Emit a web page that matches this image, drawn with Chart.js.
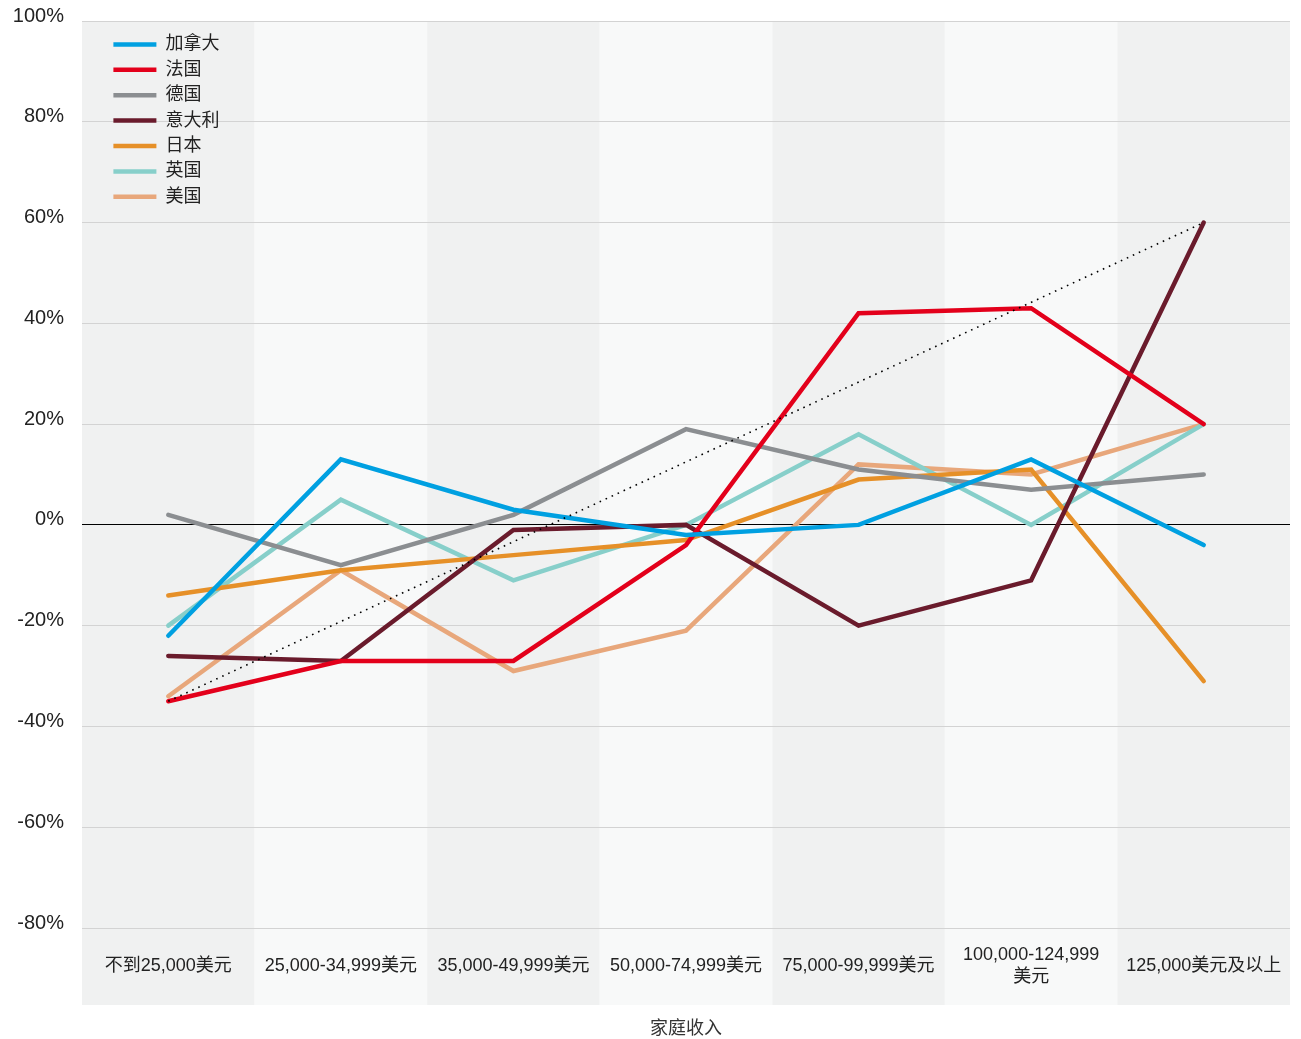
<!DOCTYPE html>
<html>
<head>
<meta charset="utf-8">
<script src="https://cdn.jsdelivr.net/npm/chart.js@4/dist/chart.umd.min.js"></script>
<style>
html,body{margin:0;padding:0;background:#fff;}
#wrap{width:1301px;height:1039px;position:relative;}
</style>
</head>
<body>
<div id="wrap"><canvas id="c"></canvas></div>
<script>
const categories = ['不到25,000美元','25,000-34,999美元','35,000-49,999美元','50,000-74,999美元','75,000-99,999美元',['100,000-124,999','美元'],'125,000美元及以上'];
const seriesNames = ['加拿大','法国','德国','意大利','日本','英国','美国'];
const canada  = [-22, 13, 3, -2, 0, 13, -4];
const france  = [-35, -27, -27, -4, 42, 43, 20];
const germany = [2, -8, 2, 19, 11, 7, 10];
const italy   = [-26, -27, -1, 0, -20, -11, 60];
const japan   = [-14, -9, -6, -3, 9, 11, -31];
const uk      = [-20, 5, -11, 0, 18, 0, 20];
const usa     = [-34, -9, -29, -21, 12, 10, 20];
const trend   = [-35, null, null, null, null, null, 60];
const colors  = ['#00a0e1','#e3001b','#8b8e91','#6a1b2c','#e69028','#87cfca','#e8a77b'];
const drawOrder = [1, 2, 4, 3, 5, 6, 7];
const yMin = -80, yMax = 100, yStep = 20;
const xTitle = '家庭收入';

const FONT = '"Liberation Sans", "Noto Sans CJK SC", Arial, sans-serif';
const seriesData = [canada, france, germany, italy, japan, uk, usa];

const datasets = seriesData.map((d, i) => ({
  label: seriesNames[i],
  data: d,
  borderColor: colors[i],
  backgroundColor: colors[i],
  borderWidth: 4.5,
  borderCapStyle: 'round',
  pointRadius: 0,
  tension: 0,
  order: drawOrder[i]
}));
datasets.push({
  label: '',
  data: trend,
  borderColor: '#000',
  backgroundColor: '#000',
  borderWidth: 1.6,
  borderDash: [1.6, 5],
  borderCapStyle: 'butt',
  pointRadius: 0,
  spanGaps: true,
  order: 0
});

const bandsPlugin = {
  id: 'bands',
  afterLayout(chart) {
    const lg = chart.legend, ca = chart.chartArea;
    if (lg) {
      const w = lg.width, h = lg.height;
      lg.left = ca.left + 24; lg.top = ca.top + 7;
      lg.right = lg.left + w; lg.bottom = lg.top + h;
    }
  },
  beforeDraw(chart) {
    const {ctx, chartArea: ca, scales: {x}} = chart;
    const n = categories.length;
    const w = (ca.right - ca.left) / n;
    ctx.save();
    for (let i = 0; i < n; i++) {
      const cx = x.getPixelForValue(i);
      ctx.fillStyle = i % 2 === 0 ? '#f0f1f1' : '#f8f9f9';
      ctx.fillRect(cx - w / 2, ca.top, w, ca.bottom + 77 - ca.top);
    }
    ctx.restore();
  }
};

new Chart(document.getElementById('c'), {
  type: 'line',
  data: { labels: categories, datasets },
  options: {
    responsive: true,
    maintainAspectRatio: false,
    animation: false,
    layout: { padding: { top: 21, right: 11, left: 0, bottom: 0 } },
    plugins: {
      tooltip: { enabled: false },
      legend: {
        position: 'chartArea',
        align: 'start',
        labels: {
          usePointStyle: true,
          pointStyle: 'line',
          pointStyleWidth: 43,
          padding: 7.4,
          color: '#222',
          font: { family: FONT, size: 18 },
          filter: (item) => item.text !== '',
          sort: (a, b) => a.datasetIndex - b.datasetIndex
        }
      }
    },
    scales: {
      x: {
        offset: true,
        grid: { display: false, drawTicks: false },
        border: { display: false },
        ticks: {
          padding: 27,
          maxRotation: 0,
          autoSkip: false,
          crossAlign: 'center',
          color: '#222',
          font: { family: FONT, size: 18 }
        },
        title: {
          display: true,
          text: xTitle,
          color: '#333',
          padding: { top: 0, bottom: 0 },
          font: { family: FONT, size: 18, lineHeight: 1.1 }
        },
        afterFit(s) { s.height = 111; s.paddingLeft = 0; s.paddingRight = 0; }
      },
      y: {
        min: yMin,
        max: yMax,
        border: { display: false },
        grid: {
          drawTicks: false,
          lineWidth: 1,
          color: (c) => (c.tick && c.tick.value === 0) ? '#000' : '#d3d3d3'
        },
        ticks: {
          stepSize: yStep,
          padding: 18,
          labelOffset: -5,
          color: '#222',
          font: { family: FONT, size: 20 },
          callback: (v) => v + '%'
        },
        afterFit(s) { s.width = 82; s.paddingTop = 0; s.paddingBottom = 0; }
      }
    }
  },
  plugins: [bandsPlugin]
});
</script>
</body>
</html>
